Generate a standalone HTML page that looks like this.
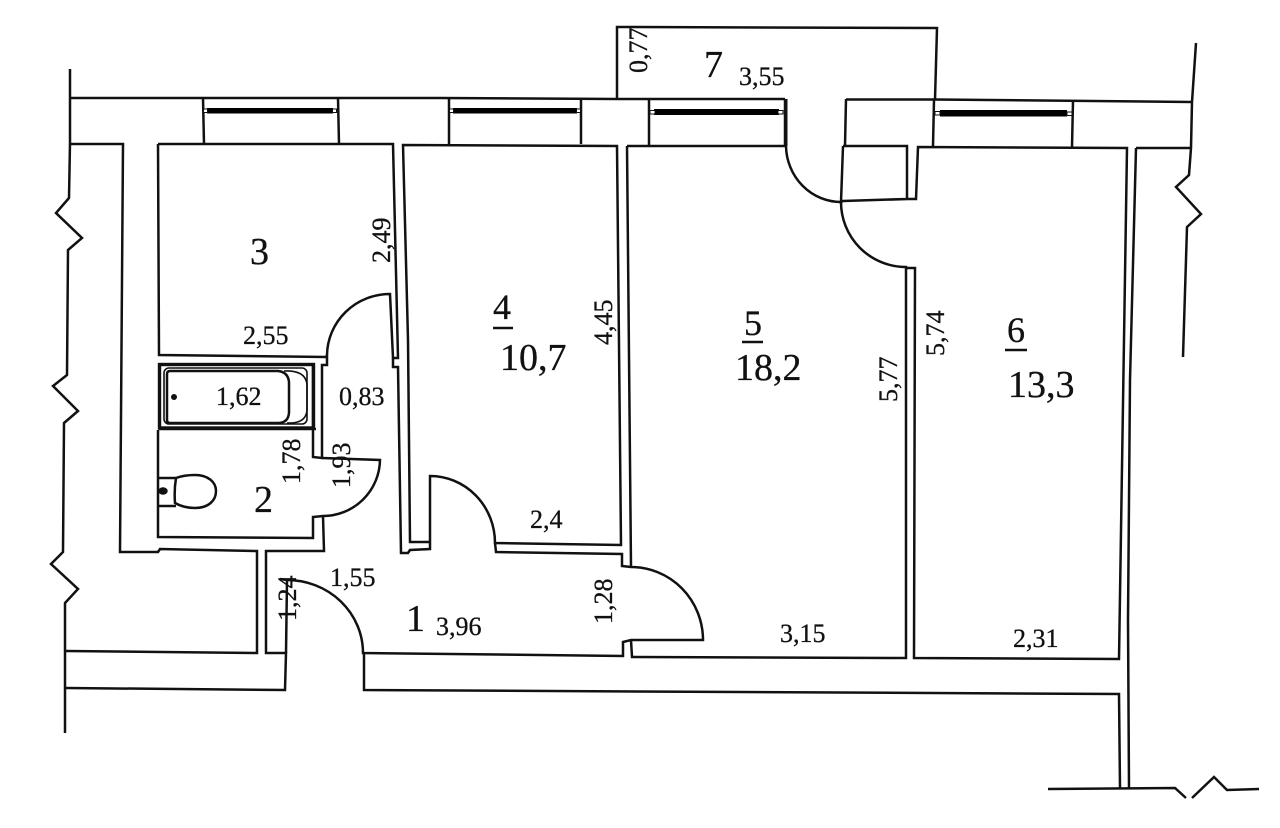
<!DOCTYPE html>
<html><head><meta charset="utf-8"><style>
html,body{margin:0;padding:0;background:#fff;width:1280px;height:828px;overflow:hidden}
svg{display:block}
text{font-family:"Liberation Serif",serif;fill:#111;stroke:#111;stroke-width:.3}
.s{font-size:26px}
.b{font-size:38px}
path,line,rect,ellipse{fill:none;stroke:#111;stroke-width:2.5}
</style></head><body>
<svg width="1280" height="828" viewBox="0 0 1280 828" xmlns="http://www.w3.org/2000/svg">
<!-- outer left -->
<path d="M70 69L70 143L69 198L56 213L82 238L68 250L67 375L53 386L78 411L64 423L63 552L51 564L78 589L65 603L65 733"/>
<!-- top wall -->
<path d="M70 98L440 98L617 99L785 99M846 99.5L935 99.5L1192 102"/>
<!-- balcony -->
<path d="M617 99L617 27L937 28L935 99.5"/>
<!-- left chimney block -->
<path d="M70 144L123 144L120 552L158 552L160 549L257 551L257 653L66 651M66 688L285 690L286 653L266 653L266 551L324 551L323 516"/>
<!-- room 3 -->
<path d="M158 144L393 144L398 358L393 358L390 294A63 62 0 0 0 327 355L326 357L159 355L158 144"/>
<path d="M327 355L327 365L322 365L322 458L313 457L313 365"/>
<!-- wall between 3 and 4 -->
<path d="M393 358L393 367L398 367L401 553L408 553L410 550L430 549L430 476A65 67 0 0 1 495 543L621 545L617 146L403 145L408 340L410 542L430 542"/>
<!-- bath -->
<rect x="159.5" y="364.5" width="154" height="63.5" style="stroke-width:3.4"/>
<path d="M159 429L316 429"/>
<rect x="164" y="368" width="143" height="56" rx="5" style="stroke-width:1.6"/>
<path d="M170 371L278 371Q288 372 289 382L289 413Q288 423 278 423L170 423Q167 423 167 420L167 374Q167 371 170 371Z"/>
<path d="M284 371Q306 370 307 385L307 410Q306 424 287 423" style="stroke-width:1.6"/>
<circle cx="174" cy="397" r="3" style="fill:#111;stroke:none"/>
<!-- room 2 -->
<path d="M158 430L158 537L313 538L313 517L323 516A57 57 0 0 0 380 460L322 458"/>
<path d="M159 478L176 478M159 506L176 506"/>
<path d="M176 478Q184 475 195 475C208 475 216 482 216 491C216 501 208 508 195 508Q184 508 175 503Q174 490 176 478Z"/>
<ellipse cx="163" cy="491" rx="3.5" ry="2.5" style="fill:#111"/>
<!-- hall -->
<path d="M287 580A76 73 0 0 1 363 653L623 656L623 642L631 640L703 640A72 73 0 0 0 631 567L622 566L622 554L496 552L495 543"/>
<path d="M280 579L287 580L286 653"/>
<path d="M364 653L364 690L740 692L1119 694L1120 788"/>
<!-- room 5 -->
<path d="M627 146L785 146L785 99M627 146L631 567M631 640L632 657L906 658L906 267A65 65 0 0 1 841 202A55 57 0 0 1 786 146"/>
<path d="M786 99L786 146" style="stroke-width:3"/>
<!-- box -->
<path d="M846 99L845 146M843 146L907 146L907 199L843 201L841 202L843 146M907 199L916 199L918 147L1127 148L1119 659L914 658L915 268L906 268"/>
<!-- right -->
<path d="M1136 148L1130 380L1128 620L1129 788M1136 148L1191 148"/>
<path d="M1196 43L1192 102L1191 148L1189 175L1176 187L1201 214L1187 227L1183 357"/>
<path d="M1048 789L1175 788L1186 798M1192 798L1214 777L1227 790L1259 789"/>
<!-- windows -->
<path d="M203 98L204 144M338 98L339 144M449 98L449 144M581 98L581 144M649 99L649 146M934 100L933 146M1073 101L1072 147"/>
<rect x="207" y="108" width="126" height="5.5" style="fill:#000;stroke:none"/>
<rect x="203.5" y="109" width="4" height="3.5" style="fill:#fff;stroke:#111;stroke-width:1"/>
<rect x="332.5" y="109" width="4" height="3.5" style="fill:#fff;stroke:#111;stroke-width:1"/>
<rect x="453" y="108" width="124" height="5.5" style="fill:#000;stroke:none"/>
<rect x="449.5" y="109" width="4" height="3.5" style="fill:#fff;stroke:#111;stroke-width:1"/>
<rect x="576.5" y="109" width="4" height="3.5" style="fill:#fff;stroke:#111;stroke-width:1"/>
<rect x="654" y="109" width="125" height="6" style="fill:#000;stroke:none"/>
<rect x="650" y="110.5" width="5" height="3.5" style="fill:#fff;stroke:#111;stroke-width:1"/>
<rect x="778" y="110.5" width="5" height="3.5" style="fill:#fff;stroke:#111;stroke-width:1"/>
<rect x="940" y="110" width="127" height="6.5" style="fill:#000;stroke:none"/>
<rect x="935" y="111.5" width="5" height="3.5" style="fill:#fff;stroke:#111;stroke-width:1"/>
<rect x="1067" y="112" width="5" height="3.5" style="fill:#fff;stroke:#111;stroke-width:1"/>
<!-- labels -->
<text class="b" x="250" y="264">3</text>
<text class="b" x="254" y="512">2</text>
<text class="b" x="406" y="631">1</text>
<text class="b" x="704" y="77">7</text>
<text class="b" x="493" y="319" style="font-size:36px">4</text><line x1="493" y1="328" x2="513" y2="328"/>
<text class="b" x="500" y="370">10,7</text>
<text class="b" x="744" y="335" style="font-size:36px">5</text><line x1="742" y1="342" x2="763" y2="342"/>
<text class="b" x="735" y="380">18,2</text>
<text class="b" x="1007" y="342" style="font-size:36px">6</text><line x1="1005" y1="350" x2="1027" y2="350"/>
<text class="b" x="1008" y="397">13,3</text>
<text class="s" x="243" y="344">2,55</text>
<text class="s" x="216" y="405">1,62</text>
<text class="s" x="339" y="405">0,83</text>
<text class="s" x="330" y="586">1,55</text>
<text class="s" x="436" y="635">3,96</text>
<text class="s" x="530" y="528">2,4</text>
<text class="s" x="739" y="85">3,55</text>
<text class="s" x="780" y="642">3,15</text>
<text class="s" x="1013" y="647">2,31</text>
<text class="s" transform="translate(390 263) rotate(-90)">2,49</text>
<text class="s" transform="translate(300 484) rotate(-90)">1,78</text>
<text class="s" transform="translate(350 488) rotate(-90)">1,93</text>
<text class="s" transform="translate(296 621) rotate(-90)">1,24</text>
<text class="s" transform="translate(612 624) rotate(-90)">1,28</text>
<text class="s" transform="translate(647 73) rotate(-90)">0,77</text>
<text class="s" transform="translate(612 345) rotate(-90)">4,45</text>
<text class="s" transform="translate(897 402) rotate(-90)">5,77</text>
<text class="s" transform="translate(944 356) rotate(-90)">5,74</text>
</svg>
</body></html>
